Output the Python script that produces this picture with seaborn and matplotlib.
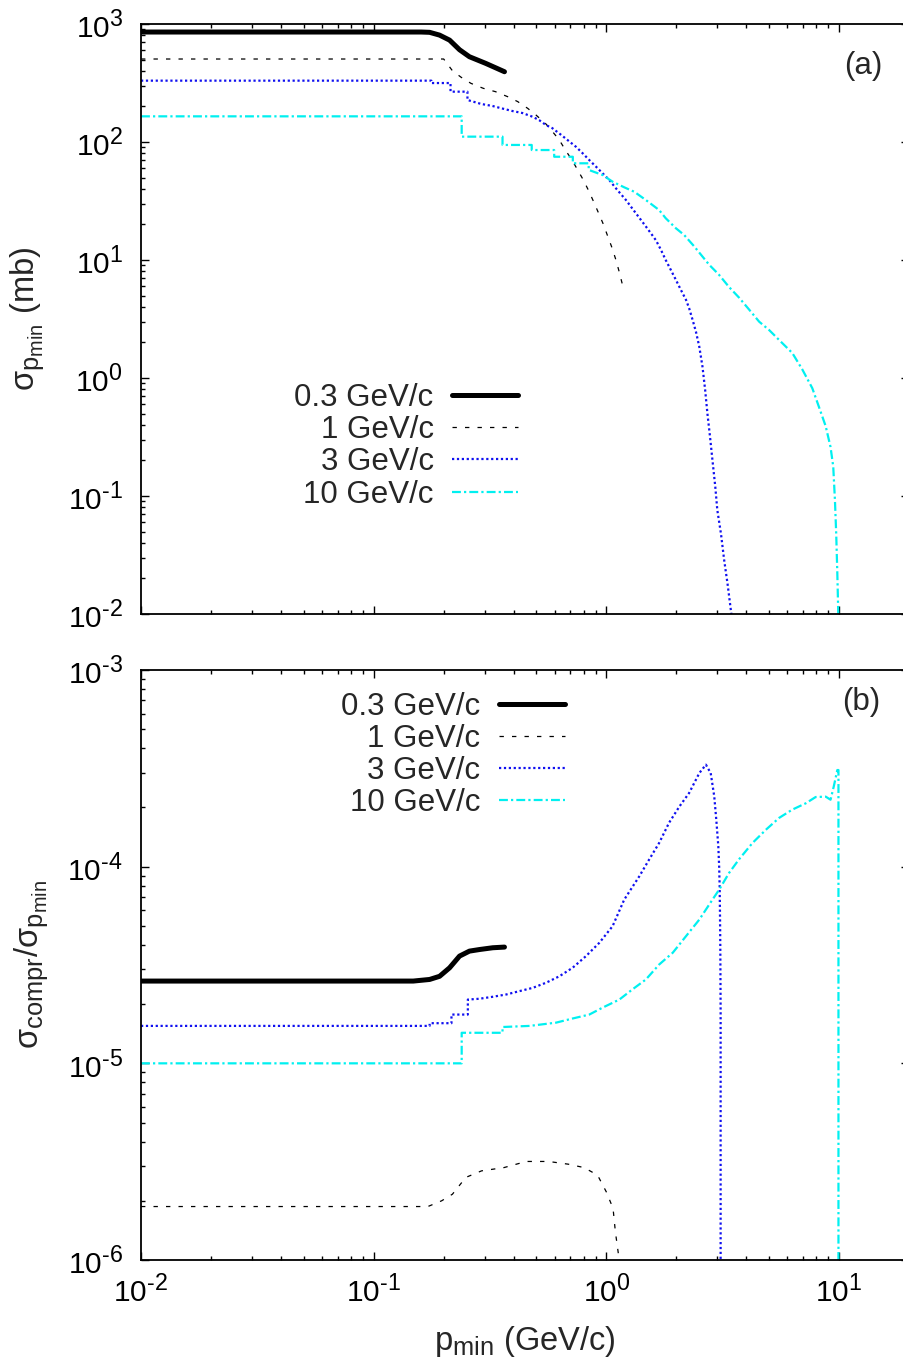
import numpy as np
import matplotlib
matplotlib.use("Agg")
import matplotlib.pyplot as plt
import matplotlib._mathtext as _mt
import seaborn as sns
from matplotlib.ticker import LogLocator, FuncFormatter, NullFormatter

# ---------------- data ----------------
momenta = ["0.3 GeV/c", "1 GeV/c", "3 GeV/c", "10 GeV/c"]

# (a) integrated cross section sigma_pmin (mb) versus p_min (GeV/c)
x03_a = [0.01, 0.16, 0.174, 0.192, 0.212, 0.234, 0.258, 0.303, 0.365]
y03_a = [855, 855, 850, 805, 730, 605, 528, 464, 394]

x1_a = [0.01, 0.2, 0.218, 0.238, 0.262, 0.296, 0.334, 0.377, 0.416, 0.459, 0.499,
        0.547, 0.588, 0.628, 0.667, 0.713, 0.753, 0.797, 0.84, 0.882, 0.927, 0.971,
        1.013, 1.058, 1.10, 1.137, 1.175]
y1_a = [505, 505, 402, 353, 314, 285, 267, 242, 220, 193, 169,
        144, 122, 104, 85.5, 70, 58, 47.6, 38.6, 31.2, 24.9, 20.1,
        16, 12.7, 10, 7.9, 6.1]

x3_a = [0.01, 0.177, 0.177, 0.214, 0.214, 0.253, 0.253, 0.29, 0.324, 0.358, 0.395,
        0.436, 0.481, 0.515, 0.551, 0.586, 0.639, 0.681, 0.741, 0.789, 0.845, 0.903,
        0.961, 1.03, 1.10, 1.156, 1.215, 1.276, 1.34, 1.41, 1.48, 1.556, 1.634, 1.717,
        1.80, 1.896, 1.99, 2.09, 2.2, 2.27, 2.35, 2.43, 2.51, 2.59, 2.66, 2.72, 2.79,
        2.86, 2.94, 3.0, 3.11, 3.21, 3.32, 3.43, 3.5]
y3_a = [331, 331, 316, 316, 267, 267, 227, 210, 202, 192, 183,
        176, 164, 153, 139, 131, 115, 104, 91, 80.7, 70.3, 61.8,
        54.6, 47.6, 40.5, 36.1, 32.2, 28.3, 24.9, 21.8, 19.2, 16.8, 14.7, 12.2,
        10, 8.2, 6.8, 5.6, 4.6, 3.9, 3.1, 2.45, 1.84, 1.25, 0.79, 0.50, 0.32,
        0.20, 0.12, 0.076, 0.048, 0.0287, 0.018, 0.0108, 0.008]

x10_a = [0.01, 0.239, 0.239, 0.358, 0.358, 0.478, 0.478, 0.597, 0.597, 0.718, 0.718,
         0.84, 0.84, 0.964, 1.064, 1.194, 1.318, 1.48, 1.687, 1.80, 1.99, 2.16, 2.39,
         2.59, 2.77, 3.05, 3.37, 3.72, 4.11, 4.54, 5.01, 5.53, 6.3, 6.96, 7.68, 8.2,
         8.77, 9.2, 9.45, 9.61, 9.73, 9.84, 9.93, 9.98]
y10_a = [165, 165, 111, 111, 94.4, 94.4, 85.5, 85.5, 75, 75, 66,
         66, 58, 52.5, 46.1, 41.3, 37.9, 32.2, 26.5, 22.6, 18.6, 16.3, 13,
         10.7, 9.1, 7.5, 5.9, 4.8, 3.8, 3.0, 2.55, 2.1, 1.63, 1.18, 0.82, 0.57,
         0.39, 0.26, 0.177, 0.092, 0.048, 0.022, 0.0102, 0.005]

# (b) ratio sigma_compr / sigma_pmin versus p_min (GeV/c)
x03_b = [0.01, 0.148, 0.174, 0.192, 0.212, 0.234, 0.258, 0.285, 0.325, 0.365]
y03_b = [2.62e-5, 2.62e-5, 2.67e-5, 2.77e-5, 3.06e-5, 3.51e-5, 3.72e-5, 3.79e-5,
         3.87e-5, 3.9e-5]

x1_b = [0.01, 0.171, 0.196, 0.218, 0.249, 0.291, 0.363, 0.453, 0.564, 0.687, 0.803,
        0.917, 1.0, 1.069, 1.094, 1.13, 1.16]
y1_b = [1.87e-6, 1.87e-6, 2.0e-6, 2.16e-6, 2.63e-6, 2.84e-6, 2.95e-6, 3.17e-6,
        3.17e-6, 3.07e-6, 2.95e-6, 2.7e-6, 2.22e-6, 1.83e-6, 1.39e-6, 1.05e-6, 0.8e-6]

x3_b = [0.01, 0.174, 0.174, 0.216, 0.216, 0.254, 0.254, 0.285, 0.325, 0.372, 0.424,
        0.483, 0.551, 0.628, 0.716, 0.818, 0.933, 1.064, 1.194, 1.386, 1.53, 1.687,
        1.86, 2.06, 2.27, 2.51, 2.68, 2.81, 2.91, 2.97, 3.03, 3.055, 3.07, 3.08,
        3.09, 3.1, 3.1, 3.1]
y3_b = [1.55e-5, 1.55e-5, 1.6e-5, 1.6e-5, 1.77e-5, 1.77e-5, 2.11e-5, 2.13e-5, 2.18e-5,
        2.24e-5, 2.33e-5, 2.42e-5, 2.57e-5, 2.77e-5, 3.06e-5, 3.51e-5, 4.1e-5,
        4.98e-5, 6.8e-5, 8.93e-5, 1.09e-4, 1.32e-4, 1.67e-4, 2.02e-4, 2.37e-4,
        2.99e-4, 3.3e-4, 2.99e-4, 2.28e-4, 1.73e-4, 1.27e-4, 1.0e-4, 7.94e-5,
        5.82e-5, 3.94e-5, 1.82e-5, 6.8e-6, 5e-7]

x10_b = [0.01, 0.239, 0.239, 0.358, 0.358, 0.468, 0.608, 0.716, 0.845, 0.964, 1.138,
         1.297, 1.48, 1.687, 1.93, 2.2, 2.51, 2.86, 3.055, 3.37, 3.72, 4.25, 4.85,
         5.53, 6.3, 7.2, 7.94, 8.77, 9.2, 9.5, 9.84, 9.95, 9.95]
y10_b = [1.0e-5, 1.0e-5, 1.43e-5, 1.43e-5, 1.53e-5, 1.55e-5, 1.61e-5, 1.69e-5,
         1.77e-5, 1.92e-5, 2.11e-5, 2.38e-5, 2.67e-5, 3.18e-5, 3.65e-5, 4.43e-5,
         5.38e-5, 6.8e-5, 7.64e-5, 9.29e-5, 1.09e-4, 1.32e-4, 1.54e-4, 1.77e-4,
         1.95e-4, 2.1e-4, 2.26e-4, 2.27e-4, 2.19e-4, 2.56e-4, 3.1e-4, 3.1e-4, 5e-7]

panel_a = [(x03_a, y03_a), (x1_a, y1_a), (x3_a, y3_a), (x10_a, y10_a)]
panel_b = [(x03_b, y03_b), (x1_b, y1_b), (x3_b, y3_b), (x10_b, y10_b)]

# line styles per beam momentum
styles = [
    dict(color="black", lw=3.6, ls="-"),
    dict(color="black", lw=0.9, ls=(0, (3.5, 6.5))),
    dict(color="#1010f0", lw=1.6, ls=(0, (1.0, 1.2))),
    dict(color="#00f0f0", lw=1.6, ls=(0, (4.0, 1.4, 1.0, 1.4))),
]

# ---------------- style ----------------
sns.set_theme(style="ticks")
plt.rcParams.update({
    "font.family": ["Liberation Sans", "DejaVu Sans"],
    "mathtext.fontset": "custom",
    "mathtext.rm": "Liberation Sans",
    "mathtext.it": "Liberation Sans:italic",
    "mathtext.bf": "Liberation Sans:bold",
    "mathtext.sf": "Liberation Sans",
    "mathtext.default": "regular",
    "axes.linewidth": 1.3,
    "axes.edgecolor": "black",
    "xtick.direction": "in",
    "ytick.direction": "in",
    "xtick.color": "black",
    "ytick.color": "black",
})
# slightly larger sub/superscripts than the mathtext default
_mt.SHRINK_FACTOR = 0.78

TICK_FS = 21.5
LEG_FS = 22.5
LAB_FS = 23.5

fig = plt.figure(figsize=(9.04, 13.63), dpi=100)
left, width = 141 / 904, (909 - 141) / 904
ax_a = fig.add_axes([left, (1363 - 614) / 1363, width, 590 / 1363])
ax_b = fig.add_axes([left, (1363 - 1260) / 1363, width, 590 / 1363])


def pow10_label(v, pos):
    e = int(round(np.log10(v)))
    s = str(e).replace("-", "\u2010")
    return r"$10^{%s}$" % s


def draw_panel(ax, series, ylim):
    for (xs, ys), lab, st in zip(series, momenta, styles):
        sns.lineplot(x=xs, y=ys, ax=ax, estimator=None, sort=False,
                     color=st["color"], linewidth=st["lw"], label=lab)
        ax.get_lines()[-1].set_linestyle(st["ls"])
    ax.set_xscale("log")
    ax.set_yscale("log")
    ax.set_xlim(0.01, 20)
    ax.set_ylim(*ylim)
    for axis in (ax.xaxis, ax.yaxis):
        axis.set_major_locator(LogLocator(base=10, numticks=20))
        axis.set_minor_locator(LogLocator(base=10, subs=np.arange(2, 10), numticks=20))
        axis.set_minor_formatter(NullFormatter())
        axis.set_major_formatter(FuncFormatter(pow10_label))
    ax.tick_params(which="both", top=True, right=True, labelsize=TICK_FS, width=1.0)
    ax.tick_params(which="major", length=5.5)
    ax.tick_params(which="minor", length=3)
    ax.tick_params(axis="y", which="major", pad=13)
    ax.tick_params(axis="x", which="major", pad=10)
    ax.set_xlabel("")
    ax.set_ylabel("")


draw_panel(ax_a, panel_a, (1e-2, 1e3))
draw_panel(ax_b, panel_b, (1e-6, 1e-3))
ax_a.tick_params(axis="x", labelbottom=False)

ax_a.set_ylabel(r"$\sigma_{p_{min}}$ (mb)", fontsize=LAB_FS)
ax_a.yaxis.set_label_coords(-0.124, 0.5)
ax_b.set_ylabel(r"$\sigma_{compr}/\sigma_{p_{min}}$", fontsize=LAB_FS)
ax_b.yaxis.set_label_coords(-0.118, 0.5)
ax_b.set_xlabel(r"$p_{min}$ (GeV/c)", fontsize=LAB_FS, labelpad=12)

ax_a.text(0.94, 0.929, "(a)", transform=ax_a.transAxes, fontsize=LEG_FS,
          ha="center", va="center")
ax_b.text(0.938, 0.946, "(b)", transform=ax_b.transAxes, fontsize=LEG_FS,
          ha="center", va="center")

leg_kw = dict(loc="center right", frameon=False, markerfirst=False, fontsize=LEG_FS,
              handlelength=2.1, handletextpad=0.6, labelspacing=0.07,
              borderpad=0, borderaxespad=0)
ax_a.legend(bbox_to_anchor=(0.491, 0.2842), **leg_kw)
ax_b.legend(bbox_to_anchor=(0.552, 0.856), **leg_kw)

fig.savefig("out.png", dpi=100)
